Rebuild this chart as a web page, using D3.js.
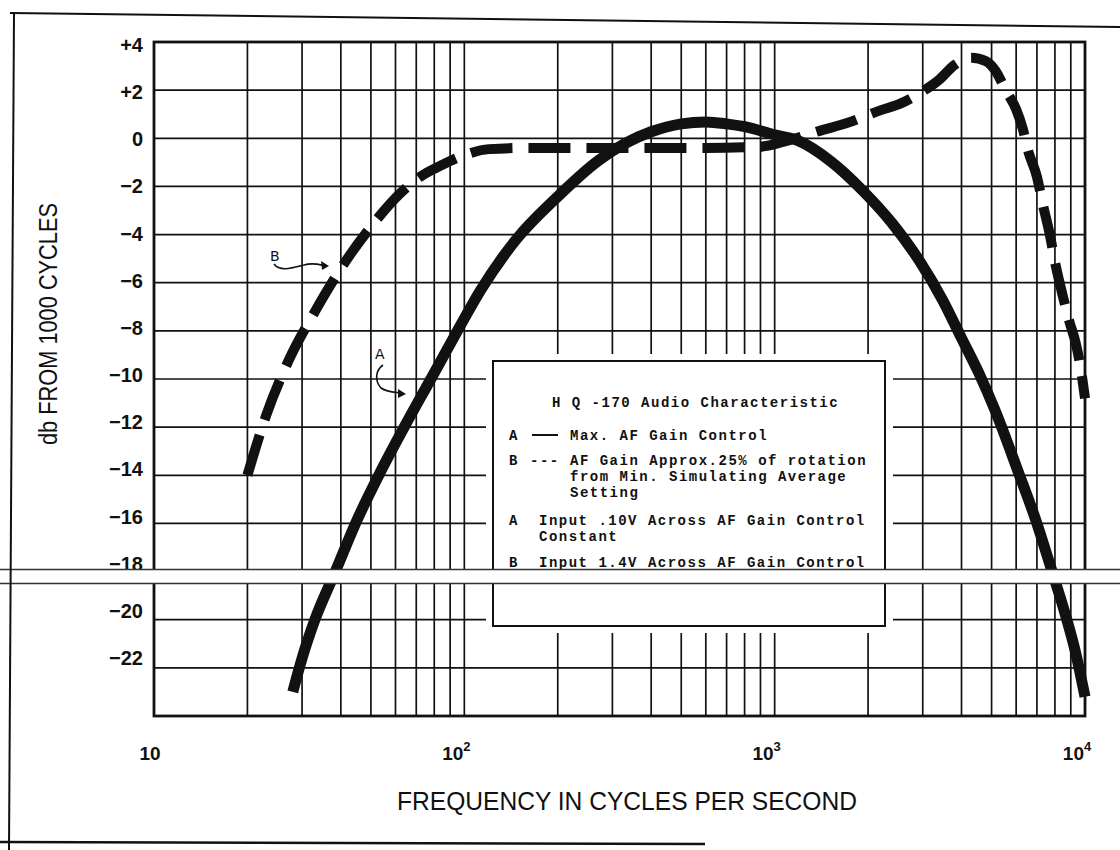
<!DOCTYPE html>
<html><head><meta charset="utf-8">
<script src="https://cdn.jsdelivr.net/npm/d3@7"></script>
<style>body{margin:0;background:#fff}</style>
</head><body>
<svg id="c" width="1120" height="850"></svg>
<script>
// ---- data ----
const freqA = [28,30,33,38.4,44.6,53,64,78,95,113,147,197,272,331,400,500,600,700,800,1000,1190,1520,1930,2380,2930,3470,4000,4530,5130,6070,7000,7660,8650,9300,10000];
const dbA   = [-23.0,-21.6,-20,-18,-16,-14,-12,-10,-8,-6.3,-4.2,-2.5,-0.9,-0.2,0.27,0.6,0.68,0.6,0.48,0.14,-0.1,-0.97,-2.2,-3.5,-5.1,-6.7,-8.3,-9.7,-11.3,-13.8,-16.0,-17.6,-19.8,-21.3,-23.2];
const freqB = [20,23,27,33,41,52,62,72,85,100,120,160,250,400,600,900,1100,1430,1700,2200,2550,3000,3400,3800,4300,4800,5150,5550,6000,6300,6550,7000,7300,7700,8050,8500,8900,9330,9700,10000];
const dbB   = [-14,-11.5,-9.3,-7.2,-5.2,-3.4,-2.3,-1.6,-1.1,-0.7,-0.45,-0.4,-0.4,-0.4,-0.4,-0.35,-0.1,0.35,0.62,1.17,1.45,1.95,2.45,3.05,3.35,3.2,2.8,2.0,1.2,0.4,-0.5,-1.6,-2.7,-4.0,-5.3,-6.6,-7.6,-8.5,-9.6,-10.8];
const dbTicks = [4,2,0,-2,-4,-6,-8,-10,-12,-14,-16,-18,-20,-22];
const dbTickLabels = ["+4","+2","0","\u22122","\u22124","\u22126","\u22128","\u221210","\u221212","\u221214","\u221216","\u221218","\u221220","\u221222"];
const freqTicks = [10,100,1000,10000];
const freqTickBase = ["10","10","10","10"];
const freqTickExp = ["","2","3","4"];
const yTitle = "db FROM 1000 CYCLES";
const xTitle = "FREQUENCY IN CYCLES PER SECOND";
const legendTitle = "H Q -170 Audio Characteristic";
const legendRows = [
  {key:"A", sym:"solid", lines:["Max. AF Gain Control"]},
  {key:"B", sym:"---", lines:["AF Gain Approx.25% of rotation","from Min. Simulating Average","Setting"]},
  {key:"A", sym:"", lines:["Input .10V Across AF Gain Control","Constant"]},
  {key:"B", sym:"", lines:["Input 1.4V Across AF Gain Control"]}
];

// ---- chart ----
const svg = d3.select("#c");
const ink = "#111";
svg.append("rect").attr("width",1120).attr("height",850).attr("fill","#fff");

const x = d3.scaleLog().domain([10,10000]).range([154,1085]);
const y = d3.scaleLinear().domain([-24,4]).range([716,42]);
// typed tick labels sit on a slightly tighter column than the printed grid
const yLab = d3.scaleLinear().domain([-22,4]).range([658,45]);

// grid
const minor = [];
[10,100,1000].forEach(d => { for (let k=1;k<=9;k++) minor.push(d*k); });
minor.push(10000);
const g = svg.append("g");
g.selectAll(".vg").data(minor).join("line")
  .attr("x1",d=>x(d)).attr("x2",d=>x(d)).attr("y1",y(4)).attr("y2",y(-24))
  .attr("stroke",ink).attr("stroke-width",1.7);
const hvals = d3.range(-24,4.01,2);
g.selectAll(".hg").data(hvals).join("line")
  .attr("x1",x(10)).attr("x2",x(10000)).attr("y1",d=>y(d)).attr("y2",d=>y(d))
  .attr("stroke",ink).attr("stroke-width",1.7);
g.append("rect").attr("x",x(10)).attr("y",y(4)).attr("width",x(10000)-x(10)).attr("height",y(-24)-y(4))
  .attr("fill","none").attr("stroke",ink).attr("stroke-width",2.8);

// curves
const line = d3.line().x(d=>x(d[0])).y(d=>y(d[1])).curve(d3.curveMonotoneX);
svg.append("path").datum(d3.zip(freqA,dbA)).attr("d",line)
  .attr("fill","none").attr("stroke",ink).attr("stroke-width",11);
svg.append("path").datum(d3.zip(freqB,dbB)).attr("d",line)
  .attr("fill","none").attr("stroke",ink).attr("stroke-width",10)
  .attr("stroke-dasharray","42 16");

// legend box
svg.append("rect").attr("x",486).attr("y",354).attr("width",407).attr("height",279).attr("fill","#fff");
svg.append("rect").attr("x",493).attr("y",361).attr("width",392).attr("height",265)
  .attr("fill","#fff").attr("stroke",ink).attr("stroke-width",2);
const lf = "'Liberation Mono','Courier New',monospace";
const lt = svg.append("g").attr("font-family",lf).attr("font-weight","bold").attr("font-size",14)
  .attr("letter-spacing",1.5).attr("fill",ink);
lt.append("text").attr("x",552).attr("y",407).text(legendTitle);
const rowY = [[440],[465,481,497],[525,541],[567]];
legendRows.forEach((r,i)=>{
  lt.append("text").attr("x",509).attr("y",rowY[i][0]).text(r.key);
  const tx = r.sym ? 570 : 539;
  if (r.sym === "solid") {
    lt.append("line").attr("x1",532).attr("x2",558).attr("y1",rowY[i][0]-5).attr("y2",rowY[i][0]-5)
      .attr("stroke",ink).attr("stroke-width",2);
  } else if (r.sym) {
    lt.append("text").attr("x",530).attr("y",rowY[i][0]).text(r.sym);
  }
  r.lines.forEach((s,j)=> lt.append("text").attr("x",tx).attr("y",rowY[i][j]).text(s));
});

// annotations
const ann = svg.append("g").attr("fill",ink).attr("font-family","'DejaVu Sans',sans-serif").attr("font-size",14);
ann.append("text").attr("x",270).attr("y",261).text("B");
ann.append("path").attr("d","M274,264 C280,272 292,268 304,265 C314,262 320,265 326,266")
  .attr("fill","none").attr("stroke",ink).attr("stroke-width",1.6);
ann.append("path").attr("d","M329,266 L321,261 L322,270 Z");
ann.append("text").attr("x",375).attr("y",359).text("A");
ann.append("path").attr("d","M383,365 C376,370 374,380 381,388 C388,393 396,392 402,393")
  .attr("fill","none").attr("stroke",ink).attr("stroke-width",1.6);
ann.append("path").attr("d","M406,394 L398,389 L398,398 Z");

// tick labels
const tf = "'Liberation Sans',Arial,sans-serif";
svg.append("g").selectAll("text").data(dbTicks).join("text")
  .attr("x",143).attr("y",d=>yLab(d)+7).attr("text-anchor","end")
  .attr("font-family",tf).attr("font-weight","bold").attr("font-size",20).attr("fill",ink)
  .text((d,i)=>dbTickLabels[i]);
const xt = svg.append("g").attr("font-family",tf).attr("font-weight","bold").attr("font-size",19).attr("fill",ink);
freqTicks.forEach((f,i)=>{
  const t = xt.append("text").attr("x",x(f)-(i===0?4:8)).attr("y",760).attr("text-anchor","middle");
  t.append("tspan").text(freqTickBase[i]);
  if (freqTickExp[i]) t.append("tspan").attr("dy",-9).attr("font-size",13).text(freqTickExp[i]);
});

// titles
svg.append("text").attr("x",627).attr("y",810).attr("text-anchor","middle")
  .attr("font-family",tf).attr("font-size",25).attr("textLength",460).attr("lengthAdjust","spacingAndGlyphs")
  .attr("fill",ink).text(xTitle);
svg.append("text").attr("transform","translate(57,324) rotate(-90)").attr("text-anchor","middle")
  .attr("font-family",tf).attr("font-size",25).attr("textLength",242).attr("lengthAdjust","spacingAndGlyphs")
  .attr("fill",ink).text(yTitle);

// scan band
svg.append("rect").attr("x",0).attr("y",570).attr("width",1120).attr("height",13).attr("fill","#fff");
svg.append("line").attr("x1",0).attr("x2",1120).attr("y1",569.5).attr("y2",569.5).attr("stroke","#333").attr("stroke-width",1.5);
svg.append("line").attr("x1",0).attr("x2",1120).attr("y1",583.5).attr("y2",583.5).attr("stroke","#333").attr("stroke-width",1.5);

// outer frame
svg.append("path").attr("d","M10,13 L1120,27").attr("stroke",ink).attr("stroke-width",2).attr("fill","none");
svg.append("path").attr("d","M14,13 L9,850").attr("stroke",ink).attr("stroke-width",2).attr("fill","none");
svg.append("path").attr("d","M0,842 L705,844").attr("stroke",ink).attr("stroke-width",2.5).attr("fill","none");
</script>
</body></html>
